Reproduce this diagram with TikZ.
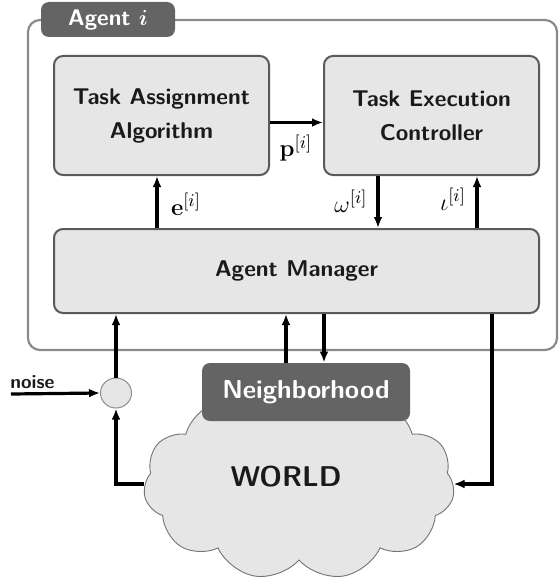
\documentclass[tikz,border=0pt]{standalone}
\usepackage{amsmath}
\usetikzlibrary{arrows.meta,shapes.symbols,shapes.geometric}
\definecolor{boxfill}{HTML}{E6E6E6}
\definecolor{darkbox}{HTML}{646464}
\definecolor{boxline}{HTML}{5A5A5A}
\definecolor{agentline}{HTML}{8A8A8A}
\definecolor{txt}{HTML}{1A1A1A}
\tikzset{
  blockbox/.style={draw=boxline, line width=1pt, fill=boxfill, rounded corners=4.5pt,
    text=txt, font=\sffamily\bfseries\fontsize{11.4}{17}\selectfont, align=center, inner sep=0pt},
  darktab/.style={fill=darkbox, rounded corners=4pt, text=white, inner sep=0pt},
  arr/.style={line width=1.6pt, -{Latex[length=5.5pt,width=4.4pt]}},
  mlabel/.style={font=\fontsize{12.5}{14}\selectfont, inner sep=0pt}
}
\begin{document}
\begin{tikzpicture}[x=0.5pt,y=-0.5pt]
\useasboundingbox (0,0) rectangle (558,583);
% agent frame
\draw[agentline, line width=1.1pt, rounded corners=6pt] (28,20) rectangle (557,350);
\node[darktab, minimum width=67pt, minimum height=17.5pt, font=\sffamily\bfseries\fontsize{11.3}{13}\selectfont] (tab) at (108,19.5) {Agent $\boldsymbol{i}$};
% blocks
\node[blockbox, minimum width=107.5pt, minimum height=59.5pt] (TA) at (161.5,115.5) {Task Assignment\\Algorithm};
\node[blockbox, minimum width=107.5pt, minimum height=59.5pt] (TE) at (431.5,115.5) {Task Execution\\Controller};
\node[blockbox, minimum width=242.5pt, minimum height=42pt] (AM) at (296.5,271) {Agent Manager};
% world cloud
\node[cloud, cloud puffs=11, cloud puff arc=115, draw=black!55, line width=0.45pt, fill=boxfill,
      minimum width=155.5pt, minimum height=96pt, inner sep=0pt] (W) at (299,484) {};
\node[text=txt, font=\sffamily\bfseries\fontsize{14.3}{16}\selectfont] (WL) at (286,477) {WORLD};
% neighborhood
\node[darktab, minimum width=104pt, minimum height=29pt, font=\sffamily\bfseries\fontsize{13}{15}\selectfont] (N) at (306,392) {Neighborhood};
% noise junction
\node[ellipse, draw=black!45, line width=0.5pt, fill=boxfill, minimum width=15.5pt, minimum height=15pt, inner sep=0pt] (C) at (116,393) {};
\coordinate (nz) at (11,394);
\node[anchor=south west, inner sep=0pt, text=txt, font=\sffamily\bfseries\fontsize{9.6}{11}\selectfont] (NL) at (10,389) {noise};
% arrows
\draw[arr] ([yshift=-3.5pt]TA.east) -- ([yshift=-3.5pt]TE.west);
\node[mlabel] (pl) at (296,148) {$\mathbf{p}^{[i]}$};
\draw[arr] (AM.north -| 157,0) -- (TA.south -| 157,0);
\node[mlabel] (el) at (186,204) {$\mathbf{e}^{[i]}$};
\draw[arr] (TE.south -| 378,0) -- (AM.north -| 378,0);
\node[mlabel] (wl) at (351,201) {$\omega^{[i]}$};
\draw[arr] (AM.north -| 477,0) -- (TE.south -| 477,0);
\node[mlabel] (il) at (453,199) {$\iota^{[i]}$};
\draw[arr] (C.north) -- (AM.south -| C.north);
\draw[arr] (N.north -| 286,0) -- (AM.south -| 286,0);
\draw[arr] (AM.south -| 324,0) -- (N.north -| 324,0);
\draw[arr] (AM.south -| 492,0) |- (W.east);
\draw[arr] (W.west) -| (C.south);
\draw[arr] (nz) -- (C.west);
\end{tikzpicture}
\end{document}
